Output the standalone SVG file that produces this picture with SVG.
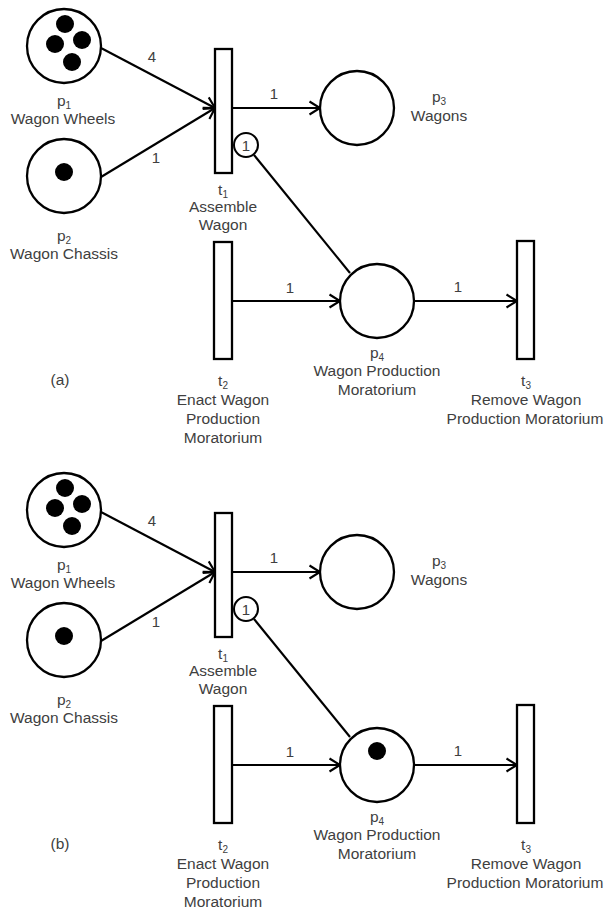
<svg xmlns="http://www.w3.org/2000/svg" width="615" height="910" viewBox="0 0 615 910">
  <style>
    .place { fill: #fff; stroke: #000; stroke-width: 2.3; }
    .trans { fill: #fff; stroke: #000; stroke-width: 2.3; }
    .token { fill: #000; }
    .arc { fill: none; stroke: #000; stroke-width: 2.1; }
    .lbl { font-family: "Liberation Sans", Arial, sans-serif; font-size: 15.5px; fill: #404040; text-anchor: middle; }
    .w { font-family: "Liberation Sans", Arial, sans-serif; font-size: 15px; fill: #404040; text-anchor: middle; }
    .sub { font-size: 10px; }
  </style>
  <defs>
    <marker id="arrow" markerWidth="14" markerHeight="16" refX="12" refY="8" orient="auto" markerUnits="userSpaceOnUse">
      <path d="M1.5,1.5 L12,8 L1.5,14.5" fill="none" stroke="#000" stroke-width="2.1"/>
    </marker>
    <!-- one Petri net layout, reused for both markings -->
    <g id="net-base">
      <g id="arcs">
        <line class="arc" x1="101" y1="48" x2="215" y2="108" marker-end="url(#arrow)"/>
        <line class="arc" x1="101" y1="177" x2="215" y2="108" marker-end="url(#arrow)"/>
        <line class="arc" x1="232" y1="108" x2="320" y2="108" marker-end="url(#arrow)"/>
        <line class="arc" x1="254" y1="155" x2="350" y2="273"/>
        <line class="arc" x1="232" y1="301" x2="340" y2="301" marker-end="url(#arrow)"/>
        <line class="arc" x1="414" y1="301" x2="517" y2="301" marker-end="url(#arrow)"/>
        <text class="w" x="152" y="62">4</text>
        <text class="w" x="156" y="163">1</text>
        <text class="w" x="274" y="99">1</text>
        <text class="w" x="290" y="293">1</text>
        <text class="w" x="458" y="292">1</text>
        <!-- weight circle on the t1 to p4 arc -->
        <circle cx="246" cy="145" r="12" fill="#fff" stroke="#000" stroke-width="2"/>
        <text class="w" x="246" y="150.5">1</text>
      </g>
      <g id="p1">
        <circle class="place" cx="64" cy="46" r="37"/>
        <circle class="token" cx="65" cy="24" r="9"/>
        <circle class="token" cx="55" cy="44" r="9"/>
        <circle class="token" cx="82" cy="40" r="9"/>
        <circle class="token" cx="72" cy="62" r="9"/>
        <text class="lbl" x="64" y="106">p<tspan class="sub" dy="3">1</tspan></text>
        <text class="lbl" x="63" y="124">Wagon Wheels</text>
      </g>
      <g id="p2">
        <circle class="place" cx="64" cy="176" r="37"/>
        <circle class="token" cx="64" cy="172" r="9"/>
        <text class="lbl" x="64" y="241">p<tspan class="sub" dy="3">2</tspan></text>
        <text class="lbl" x="64" y="259">Wagon Chassis</text>
      </g>
      <g id="t1">
        <rect class="trans" x="215" y="49" width="17" height="124"/>
        <text class="lbl" x="223" y="195">t<tspan class="sub" dy="3">1</tspan></text>
        <text class="lbl" x="223" y="212">Assemble</text>
        <text class="lbl" x="223" y="230">Wagon</text>
      </g>
      <g id="p3">
        <circle class="place" cx="357" cy="108" r="37"/>
        <text class="lbl" x="439" y="102">p<tspan class="sub" dy="3">3</tspan></text>
        <text class="lbl" x="439" y="121">Wagons</text>
      </g>
      <g id="t2">
        <rect class="trans" x="214" y="242" width="18" height="117"/>
        <text class="lbl" x="223" y="386">t<tspan class="sub" dy="3">2</tspan></text>
        <text class="lbl" x="223" y="405">Enact Wagon</text>
        <text class="lbl" x="223" y="424">Production</text>
        <text class="lbl" x="223" y="443">Moratorium</text>
      </g>
      <g id="p4">
        <circle class="place" cx="377" cy="301" r="37"/>
        <text class="lbl" x="377" y="358">p<tspan class="sub" dy="3">4</tspan></text>
        <text class="lbl" x="377" y="376">Wagon Production</text>
        <text class="lbl" x="377" y="395">Moratorium</text>
      </g>
      <g id="t3">
        <rect class="trans" x="517" y="241" width="17" height="118"/>
        <text class="lbl" x="526" y="386">t<tspan class="sub" dy="3">3</tspan></text>
        <text class="lbl" x="526" y="405">Remove Wagon</text>
        <text class="lbl" x="525" y="424">Production Moratorium</text>
      </g>
    </g>
  </defs>

  <!-- (a) initial marking -->
  <g id="net-a">
    <use href="#net-base"/>
    <text class="lbl" x="60" y="385">(a)</text>
  </g>

  <!-- (b) after t2 fires: moratorium place holds a token -->
  <g id="net-b" transform="translate(0,464)">
    <use href="#net-base"/>
    <circle id="p4-token" class="token" cx="377" cy="287" r="9"/>
    <text class="lbl" x="60" y="385">(b)</text>
  </g>
</svg>
